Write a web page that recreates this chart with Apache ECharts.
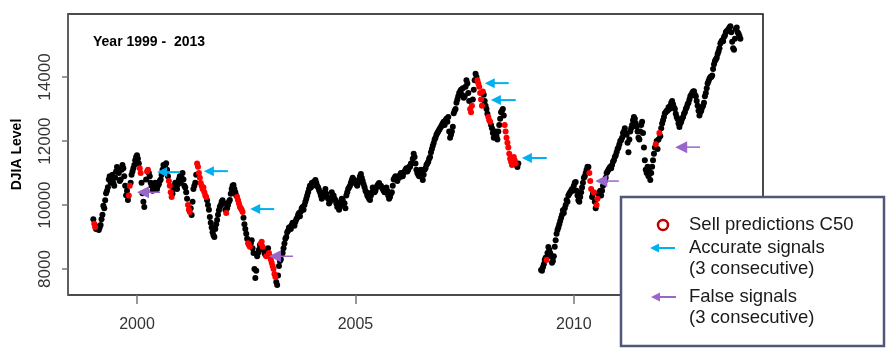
<!DOCTYPE html>
<html>
<head>
<meta charset="utf-8">
<script src="https://cdn.jsdelivr.net/npm/echarts@6/dist/echarts.min.js"></script>
<style>
  html, body { margin: 0; padding: 0; background: #fff; }
  #chart { width: 886px; height: 350px; }
</style>
</head>
<body>
<div id="chart"></div>
<script>
// DJIA level, about one reading per week (48 a year) from Jan 1999; null = not in the sample
const startYear = 1999;
const perYear = 48;
const djia = [
  // 1999
  9560, 9420, 9310, 9250, 9280, 9330, 9220, 9300, 9375, 9560, 9700, 9980,
  9900, 10150, 10370, 10450, 10560, 10800, 10900, 10700, 10800, 10950, 10690, 10600,
  10850, 11050, 11190, 11100, 11000, 10750, 10800, 11100, 11250, 11150, 10900, 10600,
  10310, 10450, 10160, 10300, 10600, 10700, 10950, 11050, 11150, 11250, 11400, 11500,
  // 2000
  11560, 11450, 11300, 11150, 11000, 10700, 10370, 10100, 9940, 10400, 10800, 11050,
  11100, 11000, 10900, 10700, 10600, 10450, 10500, 10650, 10700, 10550, 10500, 10600,
  10650, 10750, 10800, 10950, 11100, 11250, 11200, 11250, 11310, 11100, 10900, 10750,
  10600, 10400, 10250, 10350, 10500, 10600, 10700, 10600, 10500, 10650, 10800, 10900,
  // 2001
  10700, 10850, 11000, 10800, 10600, 10550, 10400, 10200, 10000, 9850, 9780, 9900,
  9690, 10100, 10500, 10600, 10700, 10950, 11300, 11200, 11000, 10850, 10690, 10600,
  10500, 10550, 10400, 10300, 10250, 10150, 10000, 9850, 9625, 9450, 9300, 9150,
  9060, 9000, 9250, 9400, 9530, 9700, 9840, 9950, 10000, 10100, 10150, 10050,
  // 2002
  10050, 9850, 9750, 9900, 10000, 10100, 10160, 10350, 10500, 10600, 10625, 10500,
  10400, 10300, 10250, 10150, 10050, 9950, 9900, 9850, 9780, 9600, 9400, 9250,
  9100, 8950, 8810, 8750, 8700, 8800, 8900, 8650, 8500, 8000, 7720, 7950,
  8400, 8500, 8600, 8750, 8800, 8850, 8700, 8600, 8500, 8450, 8400, 8550,
  // 2003
  8650, 8500, 8400, 8300, 8200, 8100, 8000, 7850, 7750, 7600, 7500, 7800,
  8100, 8250, 8300, 8450, 8500, 8650, 8800, 8950, 9000, 9150, 9200, 9300,
  9310, 9250, 9375, 9450, 9400, 9350, 9470, 9550, 9600, 9700, 9750, 9650,
  9800, 9900, 9940, 9850, 10000, 10100, 10200, 10300, 10400, 10500, 10600, 10550,
  // 2004
  10690, 10600, 10720, 10650, 10780, 10700, 10600, 10550, 10470, 10400, 10300, 10200,
  10250, 10350, 10400, 10500, 10350, 10250, 10200, 10050, 10100, 10200, 10400, 10300,
  10300, 10200, 10150, 10050, 9940, 10000, 9850, 9950, 10100, 10200, 10160, 10050,
  10060, 9900, 10300, 10400, 10500, 10550, 10600, 10700, 10780, 10850, 10800, 10700,
  // 2005
  10750, 10650, 10600, 10700, 10800, 10900, 10970, 10850, 10750, 10650, 10560, 10450,
  10400, 10300, 10250, 10200, 10160, 10300, 10400, 10550, 10500, 10400, 10450, 10550,
  10600, 10650, 10690, 10600, 10600, 10550, 10500, 10450, 10400, 10500, 10550, 10450,
  10300, 10200, 10250, 10350, 10400, 10600, 10800, 10850, 10900, 10800, 10750, 10850,
  // 2006
  10850, 10950, 11000, 10900, 10900, 11000, 11050, 11100, 11150, 11050, 11100, 11200,
  11200, 11300, 11300, 11450, 11600, 11500, 11300, 11100, 11000, 10950, 10900, 11000,
  11100, 10900, 10780, 10950, 11100, 11150, 11250, 11300, 11350, 11450, 11500, 11650,
  11750, 11850, 11940, 12050, 12100, 12200, 12250, 12300, 12350, 12400, 12450, 12500,
  // 2007
  12560, 12600, 12500, 12650, 12700, 12600, 12750, 12300, 12100, 12200, 12300, 12450,
  12870, 12950, 13000, 13200, 13300, 13400, 13500, 13550, 13600, 13450, 13650, 13350,
  13400, 13700, 13900, 13800, 13500, 13250, 13000, 12900, 13100, 13300, 13600, 13900,
  14100, 14000, 13900, 13800, 13700, 13500, 13300, 13100, 13550, 13450, 13250, 13100,
  // 2008
  13000, 12850, 12750, 12650, 12600, 12500, 12400, 12250, 12100, 12200, 12300, 12150,
  12050, 12300, 12500, 12700, 12900, 12950, 13000, 12800, 12500, 12300, 12100, 11950,
  11800, 11600, 11450, 11350, 11250, 11400, 11500, 11400, 11300, 11250, 11190, 11300,
  null, null, null, null, null, null, null, null, null, null, null, null,
  // 2009
  null, null, null, null, null, null, null, null, null, null, null, null,
  7970, 7950, 8060, 8150, 8280, 8350, 8280, 8500, 8690, 8600, 8500, 8400,
  8200, 8250, 8400, 8700, 8900, 9100, 9220, 9300, 9400, 9500, 9600, 9700,
  9840, 9750, 9900, 10000, 10160, 10100, 10300, 10350, 10400, 10450, 10500, 10450,
  // 2010
  10600, 10700, 10720, 10450, 10300, 10150, 10100, 10250, 10400, 10550, 10700, 10850,
  10900, 11000, 11100, 11200, 11190, 11000, 10750, 10500, 10250, 10350, 10400, 10100,
  9900, 10000, 10200, 10350, 10400, 10450, 10300, 10450, 10600, 10700, 10750, 10850,
  11000, 11050, 11100, 11150, 11200, 11150, 11250, 11350, 11400, 11500, 11550, 11650,
  // 2011
  11750, 11800, 11900, 12000, 12030, 12100, 12250, 12300, 12400, 12250, 12200, 11950,
  11650, 12050, 12300, 12400, 12500, 12650, 12750, 12700, 12560, 12450, 12300, 12100,
  12050, 12300, 12500, 12600, 12250, 11800, 11400, 11100, 11000, 11200, 10900, 11050,
  10780, 11000, 11200, 11400, 11600, 11800, 11900, 12000, 11750, 12050, 12250, 12150,
  // 2012
  12400, 12550, 12650, 12750, 12870, 12900, 12950, 12950, 13060, 13000, 13100, 13200,
  13250, 13150, 13050, 13000, 12850, 12750, 12690, 12550, 12440, 12550, 12600, 12700,
  12750, 12850, 12900, 13000, 13060, 13150, 13200, 13300, 13400, 13450, 13500, 13550,
  13560, 13450, 13400, 13250, 13100, 12950, 12800, 12900, 12950, 13050, 13100, 13200,
  // 2013
  13400, 13500, 13650, 13800, 13875, 13950, 14000, 14000, 14050, 14250, 14400, 14500,
  14550, 14600, 14720, 14800, 14900, 15050, 15100, 15150, 15120, 15250, 15300, 15400,
  15440, 15450, 15500, 15550, 15590, 15400, 15100, 14900, 14850, 15200, 15500, 15550,
  15400, 15350, 15280, 15200
];

// periods flagged as "sell" by the C50 model  [from, to] in years
const sellRanges = [
  [1999.02, 1999.05], [1999.81, 1999.84], [2000.06, 2000.09], [2000.22, 2000.26],
  [2000.72, 2000.80], [2001.16, 2001.21], [2001.37, 2001.59], [2002.03, 2002.05],
  [2002.28, 2002.42], [2002.54, 2002.59], [2002.83, 2002.88], [2002.95, 2002.97],
  [2003.02, 2003.17], [2007.62, 2007.67], [2007.79, 2007.92], [2008.04, 2008.09],
  [2008.41, 2008.67], [2009.37, 2009.38], [2010.35, 2010.40], [2010.45, 2010.46],
  [2010.52, 2010.55], [2011.87, 2011.88], [2011.95, 2011.96]
];

// arrows: [tip year, tail year, level]
const accurateArrows = [
  [2000.46, 2000.98, 11030], [2001.53, 2002.08, 11060], [2002.59, 2003.14, 9875],
  [2007.96, 2008.51, 13810], [2008.10, 2008.67, 13280], [2008.81, 2009.38, 11470]
];
const falseArrows = [
  [2000.00, 2000.53, 10400], [2003.02, 2003.57, 8400],
  [2010.49, 2011.03, 10750], [2012.32, 2012.89, 11810]
];

const xTicks = [2000, 2005, 2010];
const yTicks = [8000, 10000, 12000, 14000];

const BLUE = '#00b0f0';
const PURPLE = '#9966cc';

const isSell = (t) => sellRanges.some(r => t >= r[0] - 1e-6 && t <= r[1] + 1e-6);
const blackPts = [];
const redPts = [];
djia.forEach((v, i) => {
  if (v == null) return;
  const t = startYear + i / perYear;
  (isSell(t) ? redPts : blackPts).push([t, v]);
});

function arrowSeries(name, data, color, headLen, headHalf, width) {
  return {
    type: 'custom',
    name: name,
    data: data,
    silent: true,
    z: 5,
    encode: { x: [0, 1], y: 2 },
    renderItem: (params, api) => {
      const tip = api.coord([api.value(0), api.value(2)]);
      const tail = api.coord([api.value(1), api.value(2)]);
      return {
        type: 'group',
        children: [
          { type: 'line', shape: { x1: tip[0] + headLen - 1, y1: tip[1], x2: tail[0], y2: tail[1] },
            style: { stroke: color, lineWidth: width } },
          { type: 'polygon', shape: { points: [[tip[0], tip[1]], [tip[0] + headLen, tip[1] - headHalf], [tip[0] + headLen, tip[1] + headHalf]] },
            style: { fill: color } }
        ]
      };
    }
  };
}

function legendArrow(x, y, color) {
  return [
    { type: 'line', shape: { x1: x + 8, y1: y, x2: x + 25, y2: y }, style: { stroke: color, lineWidth: 2 }, z: 101 },
    { type: 'polygon', shape: { points: [[x, y], [x + 9, y - 4.5], [x + 9, y + 4.5]] }, style: { fill: color }, z: 101 }
  ];
}

const legendFont = { fontFamily: 'Liberation Sans, Arial, sans-serif', fontSize: 18.5, fill: '#1a1a1a' };
const legendText = (text, y) => ({
  type: 'text', x: 689, y: y, z: 101,
  style: Object.assign({ text: text, verticalAlign: 'middle' }, legendFont)
});

const myChart = echarts.init(document.getElementById('chart'), null, { renderer: 'canvas' });
myChart.setOption({
  animation: false,
  backgroundColor: '#fff',
  grid: { left: 68, right: 123, top: 14, bottom: 55, show: true, borderColor: '#111', borderWidth: 1.5 },
  xAxis: {
    type: 'value',
    min: 1998.42,
    max: 2014.33,
    axisLine: { show: false },
    splitLine: { show: false },
    axisTick: { show: true, customValues: xTicks, length: 9, lineStyle: { color: '#777', width: 1.5 } },
    axisLabel: {
      customValues: xTicks, margin: 22, color: '#333', fontSize: 16,
      fontFamily: 'Liberation Sans, Arial, sans-serif',
      formatter: (v) => String(v)
    }
  },
  yAxis: {
    type: 'value',
    min: 7190,
    max: 15970,
    name: 'DJIA Level',
    nameLocation: 'middle',
    nameGap: 44,
    nameRotate: 90,
    nameTextStyle: { fontFamily: 'Liberation Sans, Arial, sans-serif', fontWeight: 'bold', fontSize: 14, color: '#000' },
    axisLine: { show: true, lineStyle: { color: '#666', width: 1.5 } },
    splitLine: { show: false },
    axisTick: { show: true, customValues: yTicks, length: 6, lineStyle: { color: '#777', width: 1.5 } },
    axisLabel: {
      customValues: yTicks, rotate: 90, margin: 14, color: '#333', fontSize: 17,
      fontFamily: 'Liberation Sans, Arial, sans-serif',
      formatter: (v) => String(v)
    }
  },
  series: [
    { type: 'scatter', name: 'DJIA', data: blackPts, symbolSize: 6, itemStyle: { color: '#000', opacity: 1 }, silent: true, z: 2 },
    { type: 'scatter', name: 'Sell predictions C50', data: redPts, symbolSize: 6, itemStyle: { color: '#ff0000', opacity: 1 }, silent: true, z: 3 },
    arrowSeries('Accurate signals', accurateArrows, BLUE, 10, 5, 2),
    arrowSeries('False signals', falseArrows, PURPLE, 12, 6, 1.5)
  ],
  graphic: [
    { type: 'text', x: 93, y: 42, z: 50,
      style: { text: 'Year 1999 -  2013', fontFamily: 'Liberation Sans, Arial, sans-serif', fontWeight: 'bold', fontSize: 14, fill: '#000', verticalAlign: 'middle' } },
    { type: 'rect', shape: { x: 621, y: 197, width: 263, height: 149 }, z: 100,
      style: { fill: '#fff', stroke: '#50577a', lineWidth: 2.5 } },
    { type: 'circle', shape: { cx: 663, cy: 225, r: 5 }, z: 101,
      style: { fill: 'none', stroke: '#c00000', lineWidth: 2.5 } },
    legendText('Sell predictions C50', 225),
    ...legendArrow(650, 248, BLUE),
    legendText('Accurate signals', 248),
    legendText('(3 consecutive)', 269),
    ...legendArrow(651, 297, PURPLE),
    legendText('False signals', 297),
    legendText('(3 consecutive)', 318)
  ]
});
window.onresize = () => myChart.resize();
</script>
</body>
</html>
